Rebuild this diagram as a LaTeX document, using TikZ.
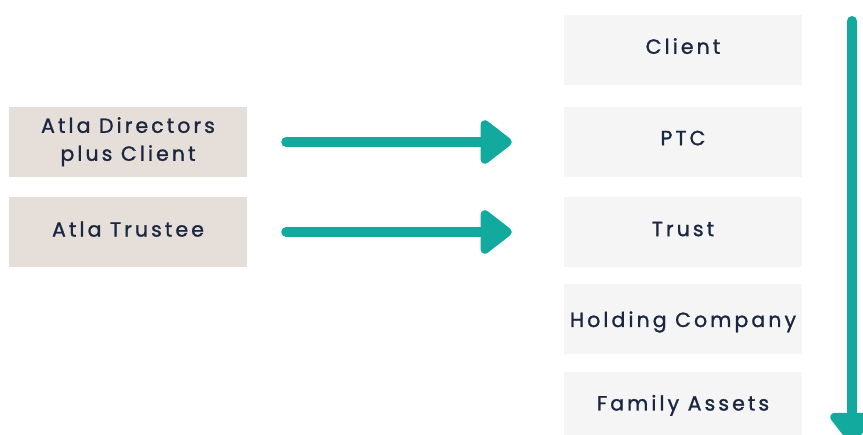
\documentclass[tikz,border=0pt]{standalone}
\usepackage{fontspec}
\setmainfont{Poppins}[LetterSpace=15,FakeBold=1.2]
\usetikzlibrary{arrows.meta}
\definecolor{teal}{HTML}{12A99E}
\definecolor{sand}{HTML}{E5DED9}
\definecolor{pale}{HTML}{F5F5F5}
\definecolor{ink}{HTML}{1B2740}
\begin{document}
\begin{tikzpicture}[x=1pt, y=-1pt,
    level/.style={fill=pale, minimum width=238pt, minimum height=70pt, inner sep=0pt,
      text=ink, font=\fontsize{20.5}{28}\selectfont, align=center},
    role/.style={level, fill=sand},
    flow/.style={draw=teal, line width=10pt, line cap=round,
      -{Triangle[round, length=34pt, width=50pt]}}]
    \useasboundingbox (0,0) rectangle (863,435);

    % Structure column
    \node[level] (client) at (683,50) {\raisebox{8pt}{Client}};
    \node[level] (ptc) at (683,142) {\raisebox{8pt}{PTC}};
    \node[level] (trust) at (683,232) {\raisebox{6pt}{Trust}};
    \node[level] (holding) at (683,319) {\raisebox{0pt}[16pt][0pt]{Holding Company}};
    \node[level, minimum height=63pt] (assets) at (683,403.5) {\raisebox{0pt}[14pt][0pt]{Family Assets}};

    % Roles
    \node[role] (directors) at (128,142) {\raisebox{6pt}{Atla Directors}\\\raisebox{6pt}{plus Client}};
    \node[role] (trustee) at (128,232) {\raisebox{6pt}{Atla Trustee}};

    % Arrows
    \draw[flow, shorten <=39pt, shorten >=52pt] (directors.east) -- (ptc.west);
    \draw[flow, shorten <=39pt, shorten >=52pt] (trustee.east) -- (trust.west);
    \coordinate (top) at (852,21);
    \coordinate (bottom) at (852,444);
    \draw[flow] (top) -- (bottom);
\end{tikzpicture}
\end{document}
